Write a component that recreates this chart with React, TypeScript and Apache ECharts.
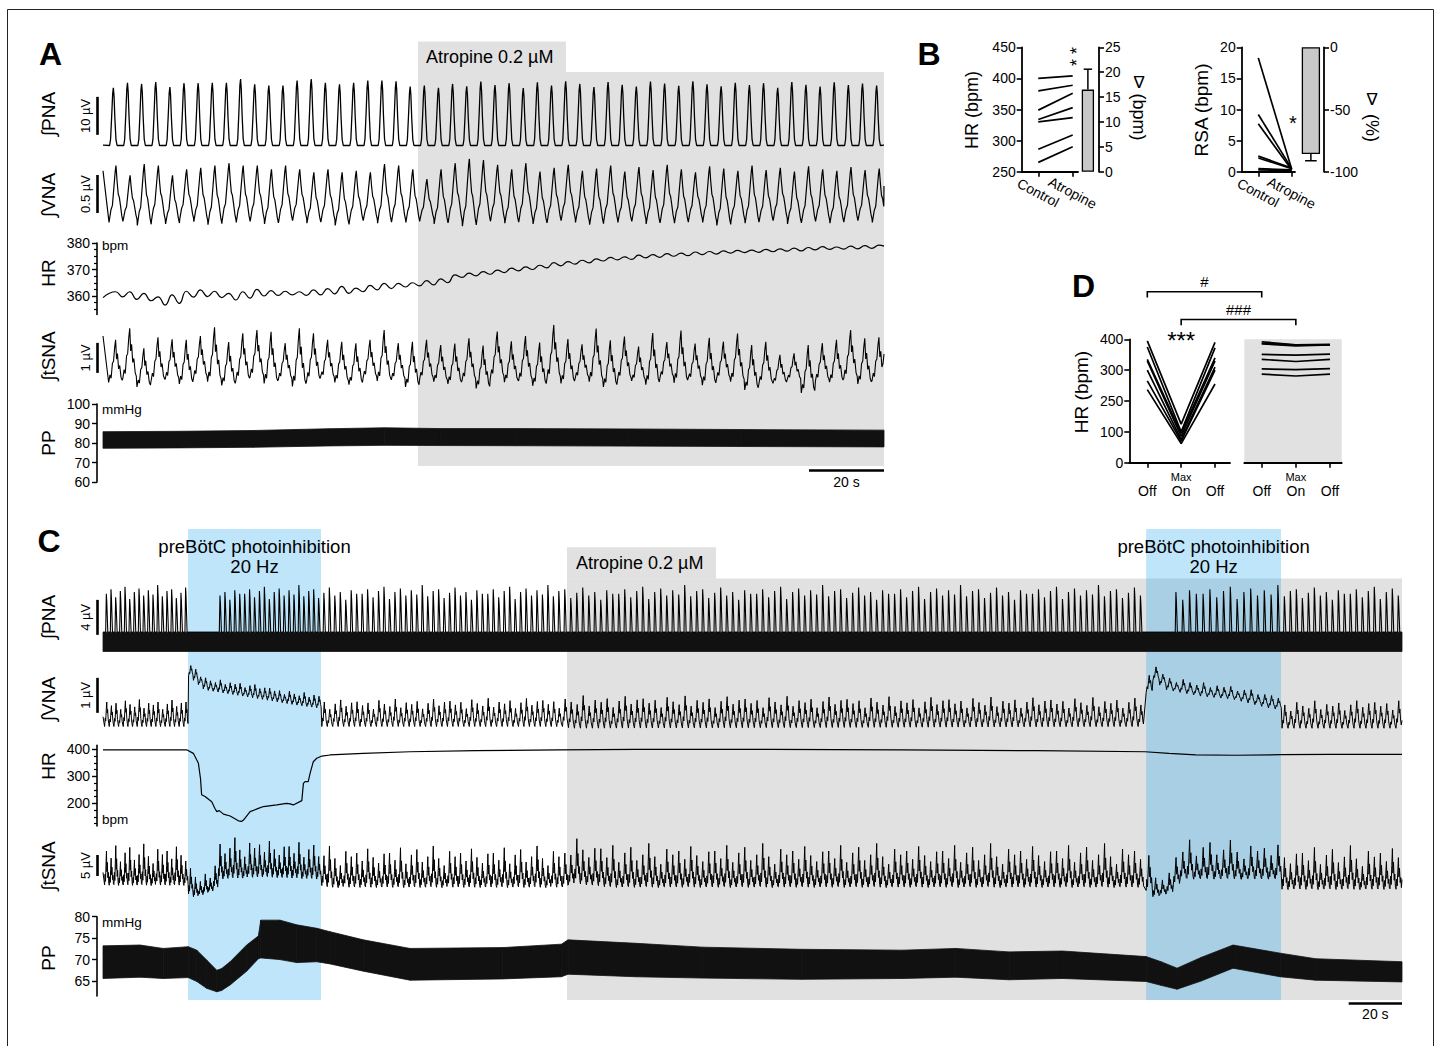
import React, { useEffect, useRef } from "react";
import * as echarts from "echarts";

const FONT = "'Liberation Sans', Arial, Helvetica, sans-serif";
const GRAY = "#e1e1e1";
const BLUE = "rgba(31,165,238,0.29)";

// ================= Panel A (time in s) =================
const A_T_MAX = 208.3;
const A_ATROPINE_START = 84.0;
const A_BURST_T0 = 2.76;
const A_PERIOD = 3.77;
const A_VNA_LAG = 0.7;
const A_SNA_LAG = 0.6;

const aPnaAmp = [
  15.2, 16.5, 16.2, 16.7, 15.4, 16.4, 16.4, 16.5, 16.5, 17.5, 16.1, 15.8, 15.8, 17.1, 17.5, 16.5, 16.1, 16.5, 17.1, 17.1, 16.9, 15.5, 15.8, 15.2,
  16.2, 15.6, 16.8, 15.9, 16.4, 15.1, 16.6, 15.8, 16.9, 16.2, 15.4, 16.7, 16.0, 15.5, 16.8, 16.3, 15.7, 16.9, 16.1, 15.6, 16.5, 15.9, 16.4, 15.2, 16.7, 16.0, 15.5, 16.6, 15.9, 16.3, 15.8,
];
const aVnaPeak = [
  0.77, 0.64, 0.79, 0.77, 0.64, 0.72, 0.74, 0.77, 0.8, 0.77, 0.77, 0.72, 0.77, 0.72, 0.68, 0.72, 0.68, 0.7, 0.68, 0.79, 0.77, 0.72, 0.59, 0.72,
  0.8, 0.86, 0.84, 0.78, 0.72, 0.8, 0.69, 0.74, 0.78, 0.7, 0.73, 0.77, 0.69, 0.75, 0.71, 0.78, 0.72, 0.68, 0.76, 0.73, 0.7, 0.77, 0.71, 0.74, 0.69, 0.76, 0.72, 0.7, 0.75, 0.71, 0.73,
];
const aVnaTrough = [
  0.02, 0.05, -0.02, 0.04, 0.0, 0.06, 0.03, -0.01, 0.04, 0.02, 0.05, 0.0, 0.03, 0.06, 0.01, 0.04, -0.02, 0.03, 0.05, 0.01,
  0.04, 0.02, 0.06, 0.0, 0.03, -0.03, 0.02, 0.05, 0.01, 0.04, 0.0, 0.03, 0.06, 0.02, -0.01, 0.04, 0.02, 0.05, 0.0, 0.03,
  0.01, 0.05, 0.02, -0.02, 0.04, 0.01, 0.03, 0.06, 0.0, 0.02, 0.04, 0.01, 0.03, 0.05, 0.02,
];
const aSnaPeak = [
  0.67, 1.06, 0.39, 0.76, 0.69, 0.67, 0.8, 1.09, 0.6, 0.89, 1.0, 0.94, 0.56, 1.06, 0.89, 0.67, 0.61, 0.56, 0.67, 1.0, 0.56, 0.61, 0.67, 0.5,
  0.55, 0.72, 0.48, 0.95, 0.62, 0.8, 0.58, 1.17, 0.7, 0.52, 1.05, 0.66, 0.78, 0.45, 0.9, 0.6, 0.98, 0.55, 0.74, 0.61, 0.88, 0.5,
  0.61, 0.17, 0.22, 0.5, 0.56, 0.67, 1.0, 0.72, 0.76,
];
const aSnaTrough = [
  -0.75, -0.62, -0.9, -0.7, -0.65, -0.8, -0.6, -0.72, -0.85, -0.68, -0.58, -0.78, -0.66, -0.88, -0.7, -0.62, -0.75, -0.82, -0.6, -0.7, -0.66, -0.9, -0.64, -0.72,
  -0.8, -0.68, -0.95, -0.6, -0.74, -0.7, -0.86, -0.64, -0.78, -0.62, -0.72, -0.9, -0.66, -0.7, -0.82, -0.6, -0.76, -0.68, -0.84, -0.64, -0.72, -1.0, -0.8, -0.78, -0.66, -1.1, -0.7, -0.74, -0.62, -0.8, -0.7,
];
const aHrHigh = [
  361.6, 361.6, 361.0, 359.7, 360.4, 361.8, 362.3, 361.8, 361.0, 361.6, 362.5, 362.0, 361.8, 361.6, 362.3, 362.8, 363.6, 363.0, 364.0, 364.8, 364.8, 365.0, 365.8, 366.5,
  368.0, 368.6, 369.2, 369.8, 370.5, 371.0, 371.6, 372.6, 373.0, 373.5, 374.0, 374.6, 374.8, 375.4, 375.6, 376.0, 376.2, 376.6, 376.8, 377.0, 377.2, 377.3, 377.6, 377.8, 378.1, 378.3, 378.6, 378.5, 378.8, 379.0, 379.2,
];
const aHrLow = [
  359.7, 358.7, 358.2, 356.6, 357.2, 359.6, 359.8, 359.4, 358.5, 359.2, 360.0, 360.2, 360.4, 360.2, 360.4, 360.8, 361.0, 361.6, 362.3, 362.8, 363.4, 363.8, 364.2, 365.0,
  367.0, 367.6, 368.2, 368.8, 369.5, 370.0, 370.6, 371.4, 372.0, 372.5, 373.2, 373.6, 373.8, 374.4, 374.6, 375.0, 375.2, 375.6, 375.8, 376.2, 376.4, 376.5, 376.7, 376.9, 377.0, 377.4, 377.6, 377.7, 377.8, 378.0, 378.3,
];
const aPpT = [0, 20, 40, 60, 75, 90, 110, 140, 170, 208.3];
const aPpLow = [77.3, 77.5, 77.8, 78.5, 78.8, 78.7, 78.6, 78.4, 78.2, 78.0];
const aPpHigh = [85.8, 86.0, 86.4, 87.3, 87.8, 87.4, 87.4, 87.2, 86.9, 86.6];

// burst / cycle waveforms (offsets in s from peak, fraction of amplitude)
const aPnaShapeDt = [-1.0, -0.75, -0.45, -0.18, 0, 0.18, 0.42, 0.7, 1.0];
const aPnaShapeFr = [0, 0.1, 0.5, 0.9, 1, 0.86, 0.45, 0.1, 0.0];
const aVnaShapeDt = [-1.85, -1.35, -0.95, -0.55, -0.2, 0, 0.3, 0.6, 0.9, 1.2, 1.55, 1.85];
const aVnaShapeFr = [0, 0.22, 0.3, 0.62, 0.9, 1, 0.72, 0.5, 0.44, 0.3, 0.12, 0.02];
const aSnaShapeDt = [-1.85, -1.5, -1.2, -0.85, -0.55, -0.25, 0, 0.25, 0.5, 0.8, 1.1, 1.45, 1.75];
const aSnaShapeFr = [0, 0.18, 0.1, 0.45, 0.5, 0.82, 1, 0.55, 0.68, 0.32, 0.4, 0.12, 0.05];

// ================= Panel C (time in s) =================
const C_T_MAX = 487.4;
const C_ATROPINE_START = 174.1;
const cPhotoStart = [31.9, 391.4];
const cPhotoEnd = [81.8, 442.0];
const cOscStart = [0.6, 32.1, 82.1, 172.4, 391.4, 442.4];
const cOscEnd = [30.4, 80.3, 172.0, 389.0, 440.0, 486.0];
const cOscPeriod = [1.75, 1.85, 2.05, 2.25, 2.55, 2.25];
const cPnaSilentStart = [31.9, 391.4];
const cPnaSilentEnd = [43.6, 402.5];
const cPnaBandT = [0, 487.4];
const cPnaBandLow = [0, 0];
const cPnaBandHigh = [2.2, 2.2];
const cPnaAmp = [6.6, 7.1, 6.2, 6.9, 7.4, 6.0, 6.8, 7.2, 6.4, 7.0, 6.5, 7.6, 6.3, 6.9, 7.1, 6.1, 6.7, 7.3, 6.4, 6.8, 5.9, 7.0, 6.6];
const cPnaShapeDt = [-0.3, -0.05, 0.12, 0.3, 0.5];
const cPnaShapeFr = [0, 1, 0.78, 0.42, 0];

const cVnaEnvT = [0, 31.9, 32.0, 38, 54, 72, 81.7, 81.9, 174, 175, 391.2, 391.5, 399, 411.6, 424, 436.7, 441.8, 442.2, 487.4];
const cVnaEnvLo = [0.1, 0.1, 1.55, 1.15, 0.95, 0.72, 0.62, 0.1, 0.1, 0.05, 0.1, 1.55, 1.15, 0.97, 0.88, 0.64, 0.58, 0.05, 0.05];
const cVnaEnvHi = [0.8, 0.8, 1.9, 1.45, 1.3, 1.05, 1.0, 0.8, 0.85, 0.9, 0.85, 1.95, 1.5, 1.32, 1.23, 0.99, 0.95, 0.75, 0.8];
const cVnaPat = [1.0, 0.85, 0.95, 0.7, 1.05, 0.9, 0.8, 1.1, 0.75, 0.95, 0.88, 1.0, 0.7, 0.92, 1.08, 0.82, 0.96];
const cVnaPh = [0, 0.14, 0.24, 0.36, 0.46, 0.55, 0.65, 0.77, 0.88];
const cVnaFr = [0, 0.35, 0.22, 0.7, 1.0, 0.55, 0.7, 0.3, 0.12];

const cSnaEnvT = [0, 31.9, 32.2, 37, 41, 43.5, 60, 81.7, 82.2, 174, 175, 190, 391.2, 391.8, 400, 403, 441.8, 442.4, 487.4];
const cSnaEnvLo = [-3.5, -3.5, -6.5, -5.5, -4.5, -2, -1.5, -2, -4, -4, -3, -4, -4, -6.5, -5, -2, -2, -4.5, -4.5];
const cSnaEnvHi = [5, 5, -1, -1.5, 1, 6.5, 6.5, 5.5, 4.5, 4.5, 7, 5, 5, -1, 0, 6.5, 5.5, 4.5, 4.5];
const cSnaPat = [1.0, 0.8, 1.15, 0.7, 0.95, 1.1, 0.75, 0.9, 1.2, 0.85, 0.65, 1.05, 0.9, 1.0, 0.78, 1.12, 0.88, 0.72, 0.98];
const cSnaPh = [0, 0.1, 0.2, 0.3, 0.4, 0.48, 0.58, 0.7, 0.8, 0.9];
const cSnaFr = [0.05, 0.35, 0.15, 0.6, 1.0, 0.42, 0.68, 0.25, 0.4, 0.1];

const cHrT = [0, 31.4, 33.9, 35.8, 36.6, 37.0, 38.3, 40.8, 42.0, 42.7, 43.6, 45.2, 47.7, 50.8, 52.0, 52.7, 55.2, 58.3, 60.2, 65.2, 68.9, 70.2, 71.4, 74.6, 75.2, 75.8, 77.0, 77.7, 78.9, 80.2, 82.1, 85.2, 97.7, 115.2, 140, 171, 200, 250, 300, 350, 391, 400, 410, 425, 442, 460, 487.4];
const cHr = [398, 398, 385, 348, 290, 232, 225, 206, 181, 169, 173, 160, 153, 135, 133, 138, 169, 181, 188, 194, 200, 198, 194, 210, 274, 280, 280, 311, 354, 367, 375, 379, 385, 391, 395, 398, 400, 400, 398, 395, 391, 385, 379, 378, 380, 381, 381];

const cPpT = [0, 13.9, 22.6, 32.0, 35.2, 38.9, 42.7, 44.5, 47.7, 53.9, 58.3, 59.2, 66.4, 72.7, 80.2, 85.2, 97.7, 115.2, 150, 172, 174.5, 200, 225, 262, 300, 320, 340, 360, 391.4, 397, 403, 412, 424, 441.7, 455, 487.4];
const cPpLow = [65.6, 65.9, 65.6, 65.8, 64.9, 63.3, 62.5, 62.8, 64.1, 67.3, 70.2, 70.4, 70.0, 69.3, 69.5, 69.0, 67.3, 65.2, 65.5, 66.0, 66.6, 66.0, 65.7, 65.4, 65.6, 65.9, 65.3, 65.6, 64.9, 64.0, 63.1, 65.0, 68.0, 66.0, 65.2, 64.8];
const cPpHigh = [73.2, 73.4, 72.6, 73.0, 72.2, 69.9, 67.5, 67.9, 69.5, 73.4, 75.5, 79.2, 79.2, 78.1, 77.3, 76.5, 74.6, 72.6, 72.8, 73.6, 74.6, 73.8, 72.9, 72.4, 72.2, 72.6, 71.8, 72.0, 70.7, 69.5, 68.0, 70.5, 73.4, 71.5, 70.2, 69.5];

// ================= Panel B =================
const bCategories = ["Control", "Atropine"];
const bHrControl = [400, 380, 349, 334, 330, 286, 265];
const bHrAtropine = [404, 389, 376, 353, 337, 309, 290];
const bHrDeltaMean = 16.5;
const bHrDeltaSem = 4.1;
const bRsaControl = [18.3, 9.2, 7.7, 2.5, 2.2, 0.5, 0.3];
const bRsaAtropine = [0.4, 0.5, 0.3, 0.6, 0.5, 0.3, 0.2];
const bRsaDeltaMean = -85.8;
const bRsaDeltaSem = 5.4;

// ================= Panel D =================
const dCategories = ["Off", "On", "Off"];
const dMaxLabel = "Max";
const dTickLabels = ["0", "100", "250", "300", "400"];
const dCtrlOff1 = [395, 375, 335, 330, 300, 265, 237];
const dCtrlOn = [125, 100, 95, 85, 75, 70, 62];
const dCtrlOff2 = [390, 372, 340, 330, 310, 300, 255];
const dAtrOff1 = [392, 388, 385, 351, 335, 304, 287];
const dAtrOn = [382, 381, 379, 349, 328, 302, 281];
const dAtrOff2 = [384, 382, 382, 352, 335, 305, 287];

// ================= helpers =================
function envAt(T: number[], V: number[], t: number) {
  if (t <= T[0]) return V[0];
  for (let i = 1; i < T.length; i++) {
    if (t <= T[i]) {
      const f = (t - T[i - 1]) / (T[i] - T[i - 1] || 1);
      return V[i - 1] + f * (V[i] - V[i - 1]);
    }
  }
  return V[V.length - 1];
}

function aPnaData() {
  const d: number[][] = [[0, 0.1]];
  aPnaAmp.forEach((amp, k) => {
    const tp = A_BURST_T0 + k * A_PERIOD;
    aPnaShapeDt.forEach((dt, j) => d.push([tp + dt, amp * aPnaShapeFr[j]]));
  });
  const out = d.filter((p) => p[0] >= 0 && p[0] <= A_T_MAX);
  out.push([A_T_MAX, 0.1]);
  return out;
}

function aOscData(peaks: number[], troughs: number[], lag: number, dts: number[], frs: number[], start: number, end: number) {
  const d: number[][] = [[0, start]];
  peaks.forEach((pk, k) => {
    const tp = A_BURST_T0 + k * A_PERIOD + lag;
    const tr = troughs[k];
    dts.forEach((dt, j) => d.push([tp + dt, tr + frs[j] * (pk - tr)]));
  });
  const out = d.filter((p) => p[0] >= 0 && p[0] <= A_T_MAX);
  out.push([A_T_MAX, end]);
  return out;
}

function aHrData() {
  const d: number[][] = [[0, 359.4]];
  aHrHigh.forEach((hi, k) => {
    const tp = A_BURST_T0 + k * A_PERIOD;
    d.push([tp + 0.6, hi]);
    d.push([tp + 2.5, aHrLow[k]]);
  });
  const out = d.filter((p) => p[0] <= A_T_MAX);
  out.push([A_T_MAX, 378.8]);
  return out;
}

function cCycles() {
  const out: number[][] = [];
  cOscStart.forEach((s, i) => {
    for (let t = s; t <= cOscEnd[i] + 1e-9; t += cOscPeriod[i]) out.push([t, cOscPeriod[i]]);
  });
  return out;
}

function cPnaSpikes() {
  const base = cPnaBandHigh[0];
  const d: number[][] = [[0, base]];
  let k = 0;
  cCycles().forEach(([t0, P]) => {
    const tp = t0 + 0.4 * P;
    if (cPnaSilentStart.some((s, i) => tp >= s && tp <= cPnaSilentEnd[i])) return;
    const amp = cPnaAmp[k++ % cPnaAmp.length];
    cPnaShapeDt.forEach((dt, j) => d.push([tp + dt, base + cPnaShapeFr[j] * (amp - base)]));
  });
  const out = d.filter((p) => p[0] <= C_T_MAX);
  out.push([C_T_MAX, base]);
  return out;
}

function cOscData(envT: number[], envLo: number[], envHi: number[], pat: number[], ph: number[], fr: number[]) {
  const d: number[][] = [[0, envAt(envT, envLo, 0) + 0.4 * (envAt(envT, envHi, 0) - envAt(envT, envLo, 0))]];
  cCycles().forEach(([t0, P], k) => {
    const lo = envAt(envT, envLo, t0);
    const hi = envAt(envT, envHi, t0);
    const a = pat[k % pat.length];
    ph.forEach((p, j) => d.push([t0 + p * P, lo + fr[j] * (hi - lo) * a]));
  });
  const out = d.filter((p) => p[0] <= C_T_MAX);
  out.push([C_T_MAX, envAt(envT, envLo, C_T_MAX) + 0.3 * (envAt(envT, envHi, C_T_MAX) - envAt(envT, envLo, C_T_MAX))]);
  return out;
}

// ================= option =================
const axisColor = "#000";
const lbl = (extra: any = {}) => ({ color: "#000", fontSize: 14, fontFamily: FONT, ...extra });

const hx = (gi: number, min: number, max: number) => ({ type: "value", gridIndex: gi, min, max, show: false, splitLine: { show: false } });
const hy = (gi: number, min: number, max: number) => ({ type: "value", gridIndex: gi, min, max, show: false, splitLine: { show: false } });
const traceY = (gi: number, min: number, max: number, ticks: number[]) => ({
  type: "value", gridIndex: gi, min, max, position: "left", offset: 6,
  axisLine: { show: true, onZero: false, lineStyle: { color: axisColor, width: 1.6 } },
  axisTick: { show: true, customValues: ticks, length: 5, lineStyle: { color: axisColor, width: 1.4 } },
  axisLabel: lbl({ customValues: ticks, margin: 7 }),
  splitLine: { show: false },
});
const minorY = (gi: number, min: number, max: number, ticks: number[]) => ({
  type: "value", gridIndex: gi, min, max, position: "left", offset: 6,
  axisLine: { show: false, onZero: false },
  axisTick: { show: true, customValues: ticks, length: 3, lineStyle: { color: axisColor, width: 1.2 } },
  axisLabel: { show: false },
  splitLine: { show: false },
});
const bY = (gi: number, min: number, max: number, interval: number, position: string, fmt?: any) => ({
  type: "value", gridIndex: gi, min, max, interval, position,
  axisLine: { show: true, onZero: false, lineStyle: { color: axisColor, width: 1.8 } },
  axisTick: { show: true, length: 5, lineStyle: { color: axisColor, width: 1.6 } },
  axisLabel: lbl({ margin: 6, ...(fmt ? { formatter: fmt } : {}) }),
  splitLine: { show: false },
});
const catX = (gi: number, min: number, max: number) => ({
  type: "value", gridIndex: gi, min, max,
  axisLine: { show: true, onZero: false, lineStyle: { color: axisColor, width: 1.8 } },
  axisTick: { show: true, customValues: [0, 1], length: 5, lineStyle: { color: axisColor, width: 1.6 } },
  axisLabel: lbl({ customValues: [0, 1], formatter: (v: number) => bCategories[Math.round(v)], rotate: -28, align: "center", verticalAlign: "middle", margin: 21 }),
  splitLine: { show: false },
});
const dX = (gi: number, min: number, max: number) => ({
  type: "value", gridIndex: gi, min, max,
  axisLine: { show: true, onZero: false, lineStyle: { color: axisColor, width: 1.8 } },
  axisTick: { show: true, customValues: [0, 1, 2], length: 5, lineStyle: { color: axisColor, width: 1.6 } },
  axisLabel: {
    customValues: [0, 1, 2], margin: 8,
    formatter: (v: number) => {
      const i = Math.round(v);
      return i === 1 ? `{s|${dMaxLabel}}\n{b|${dCategories[i]}}` : `{s| }\n{b|${dCategories[i]}}`;
    },
    rich: {
      s: { fontSize: 11, lineHeight: 12, fontFamily: FONT, color: "#000" },
      b: { fontSize: 14, lineHeight: 16, fontFamily: FONT, color: "#000" },
    },
  },
  splitLine: { show: false },
});

const traceLine = (xi: number, data: number[][], width = 1.2, smooth: any = false) => ({
  type: "line", xAxisIndex: xi, yAxisIndex: xi, data, symbol: "none", showSymbol: false, smooth,
  lineStyle: { color: "#000", width }, silent: true, z: 5, animation: false,
});
// filled band between a lower and an upper envelope, drawn segment by segment through the axes' scales
const bandSeries = (xi: number, T: number[], lo: number[], hi: number[]) => ({
  type: "custom", xAxisIndex: xi, yAxisIndex: xi, z: 5, silent: true,
  data: T.slice(0, -1).map((t, i) => [t, lo[i], hi[i], T[i + 1], lo[i + 1], hi[i + 1]]),
  renderItem: (_p: any, api: any) => {
    const a = api.coord([api.value(0), api.value(1)]);
    const b = api.coord([api.value(0), api.value(2)]);
    const c = api.coord([api.value(3), api.value(5)]);
    const d = api.coord([api.value(3), api.value(4)]);
    return { type: "polygon", shape: { points: [a, b, c, d] }, style: { fill: "#111", stroke: "#111", lineWidth: 0.8 } };
  },
});
const pairLines = (xi: number, ...cols: number[][]) =>
  cols[0].map((_, i) => ({
    type: "line", xAxisIndex: xi, yAxisIndex: xi, data: cols.map((c, j) => [j, c[i]]),
    symbol: "none", lineStyle: { color: "#000", width: 1.7 }, silent: true, z: 5,
  }));
const errBar = (xi: number, x: number, mean: number, end: number, hw: number) => ({
  type: "custom", xAxisIndex: xi, yAxisIndex: xi, data: [[x, mean, end]], z: 6, silent: true,
  renderItem: (_p: any, api: any) => {
    const p1 = api.coord([api.value(0), api.value(1)]);
    const p2 = api.coord([api.value(0), api.value(2)]);
    return {
      type: "group",
      children: [
        { type: "line", shape: { x1: p1[0], y1: p1[1], x2: p2[0], y2: p2[1] }, style: { stroke: "#000", lineWidth: 1.5 } },
        { type: "line", shape: { x1: p2[0] - hw, y1: p2[1], x2: p2[0] + hw, y2: p2[1] }, style: { stroke: "#000", lineWidth: 1.5 } },
      ],
    };
  },
});

function buildOption() {
  const gridBoxes = [
    [103, 77.1, 781, 72.2], // 0 A PNA
    [103, 159.4, 781, 76], // 1 A VNA
    [103, 243, 781, 71.55], // 2 A HR
    [103, 315, 781, 90], // 3 A tSNA
    [103, 404, 781, 78], // 4 A PP
    [103, 581.5, 1299, 72.6], // 5 C PNA
    [103, 660, 1299, 77], // 6 C VNA
    [103, 745.25, 1299, 80.73], // 7 C HR
    [103, 830, 1299, 84], // 8 C tSNA
    [103, 916.7, 1299, 79.37], // 9 C PP
    [1021.7, 47.3, 56.3, 124.4], // 10 B HR lines
    [1078, 47.3, 21, 124.4], // 11 B HR delta
    [1241.7, 47.3, 53.3, 124.4], // 12 B RSA lines
    [1295, 47.3, 29, 124.4], // 13 B RSA delta
    [1129.3, 339.3, 100.7, 123.4], // 14 D control
    [1244.3, 339.3, 97.4, 123.4], // 15 D atropine
  ];
  const grid = gridBoxes.map(([left, top, width, height], i) => ({
    left, top, width, height, show: i === 15, backgroundColor: i === 15 ? GRAY : "transparent",
    borderWidth: 0, containLabel: false, outerBoundsMode: "none",
  }));
  const xAxis = [
    hx(0, 0, A_T_MAX), hx(1, 0, A_T_MAX), hx(2, 0, A_T_MAX), hx(3, 0, A_T_MAX), hx(4, 0, A_T_MAX),
    hx(5, 0, C_T_MAX), hx(6, 0, C_T_MAX), hx(7, 0, C_T_MAX), hx(8, 0, C_T_MAX), hx(9, 0, C_T_MAX),
    catX(10, -0.483, 1.154), hx(11, 0, 1), catX(12, -0.497, 1.099), hx(13, 0, 1),
    dX(14, -0.532, 2.443), dX(15, -0.51, 2.343),
  ];
  const yAxis = [
    hy(0, -1, 18), hy(1, -0.15, 0.85),
    traceY(2, 353, 380, [360, 370, 380]),
    hy(3, -1.5, 1.5),
    traceY(4, 60, 100, [60, 70, 80, 90, 100]),
    hy(5, -0.3, 8), hy(6, -0.2, 2.0),
    traceY(7, 116, 415, [200, 300, 400]),
    hy(8, -10, 10),
    traceY(9, 61.5, 80, [65, 70, 75, 80]),
    bY(10, 250, 450, 50, "left"),
    bY(11, 0, 25, 5, "right"),
    bY(12, 0, 20, 5, "left"),
    bY(13, -100, 0, 50, "right"),
    bY(14, 0, 400, 100, "left", (v: number) => dTickLabels[Math.round(v / 100)]),
    hy(15, 0, 400),
    minorY(2, 353, 380, [355, 357.5, 362.5, 365, 367.5, 372.5, 375, 377.5]),
    minorY(7, 116, 415, [125, 150, 175, 225, 250, 275, 325, 350, 375]),
  ];

  const series: any[] = [
    traceLine(0, aPnaData(), 1.3),
    traceLine(1, aOscData(aVnaPeak, aVnaTrough, A_VNA_LAG, aVnaShapeDt, aVnaShapeFr, 0.7, 0.5), 1.2),
    traceLine(2, aHrData(), 1.2, 0.5),
    traceLine(3, aOscData(aSnaPeak, aSnaTrough, A_SNA_LAG, aSnaShapeDt, aSnaShapeFr, 0.8, 0.2), 1.1),
    bandSeries(4, aPpT, aPpLow, aPpHigh),
    bandSeries(5, cPnaBandT, cPnaBandLow, cPnaBandHigh),
    traceLine(5, cPnaSpikes(), 1.1),
    traceLine(6, cOscData(cVnaEnvT, cVnaEnvLo, cVnaEnvHi, cVnaPat, cVnaPh, cVnaFr), 1.0),
    traceLine(7, cHrT.map((t, i) => [t, cHr[i]]), 1.2),
    traceLine(8, cOscData(cSnaEnvT, cSnaEnvLo, cSnaEnvHi, cSnaPat, cSnaPh, cSnaFr), 1.0),
    bandSeries(9, cPpT, cPpLow, cPpHigh),
    ...pairLines(10, bHrControl, bHrAtropine),
    { type: "bar", xAxisIndex: 11, yAxisIndex: 11, data: [[0.471, bHrDeltaMean]], barWidth: 12.3, itemStyle: { color: "#c8c8c8", borderColor: "#000", borderWidth: 1.3 }, silent: true, z: 5 },
    errBar(11, 0.471, bHrDeltaMean, bHrDeltaMean + bHrDeltaSem, 4.2),
    ...pairLines(12, bRsaControl, bRsaAtropine),
    { type: "bar", xAxisIndex: 13, yAxisIndex: 13, data: [[0.548, bRsaDeltaMean]], barWidth: 18.3, itemStyle: { color: "#c8c8c8", borderColor: "#000", borderWidth: 1.3 }, silent: true, z: 5 },
    errBar(13, 0.548, bRsaDeltaMean, bRsaDeltaMean - bRsaDeltaSem, 5.8),
    ...pairLines(14, dCtrlOff1, dCtrlOn, dCtrlOff2),
    ...pairLines(15, dAtrOff1, dAtrOn, dAtrOff2),
  ];

  return {
    animation: false,
    backgroundColor: "#fff",
    textStyle: { fontFamily: FONT },
    grid, xAxis, yAxis, series,
  };
}

// ================= annotations =================
const traceLabels = ["∫PNA", "∫VNA", "HR", "∫tSNA", "PP"];
const traceLabelYA = [114, 195, 273, 356, 443];
const traceLabelYC = [617, 699, 766, 866, 958];
const scaleBarAxis = [0, 1, 3, 5, 6, 8];
const scaleBarFrom = [2.8, 0.145, -0.43, 1.9, 0.49, -0.95];
const scaleBarSize = [10, 0.5, 1, 4, 1, 5];
const scaleBarText = ["10 µV", "0.5 µV", "1 µV", "4 µV", "1 µV", "5 µV"];
const TIME_BAR_S = 20;

const txt = (text: string, x: number, y: number, o: any = {}) => ({
  type: "text", x, y, rotation: o.rotation || 0, z: 20, silent: true,
  style: {
    text, fill: "#000", fontSize: o.size || 14, fontFamily: FONT, fontWeight: o.weight || "normal",
    textAlign: o.align || "center", textVerticalAlign: "middle", align: o.align || "center", verticalAlign: "middle",
  },
});
const rect = (x: number, y: number, w: number, h: number, fill: string, z = 1) => ({
  type: "rect", z, silent: true, shape: { x, y, width: w, height: h }, style: { fill },
});
const seg = (x1: number, y1: number, x2: number, y2: number, w: number) => ({
  type: "line", z: 20, silent: true, shape: { x1, y1, x2, y2 }, style: { stroke: "#000", lineWidth: w },
});

function buildGraphic(chart: any) {
  const px = (xi: number, v: number) => chart.convertToPixel({ xAxisIndex: xi }, v) as number;
  const py = (yi: number, v: number) => chart.convertToPixel({ yAxisIndex: yi }, v) as number;
  const els: any[] = [];

  // frame
  els.push({ type: "rect", z: 30, silent: true, shape: { x: 7.5, y: 9.5, width: 1426, height: 1050 }, style: { fill: "none", stroke: "#222", lineWidth: 1 } });

  // panel letters
  els.push(txt("A", 50.5, 53.5, { size: 32, weight: "bold" }));
  els.push(txt("B", 929, 53.5, { size: 32, weight: "bold" }));
  els.push(txt("C", 49, 541, { size: 32, weight: "bold" }));
  els.push(txt("D", 1083.5, 286, { size: 32, weight: "bold" }));

  // Panel A shading
  const ax0 = px(0, A_ATROPINE_START);
  const ax1 = px(0, A_T_MAX);
  els.push(rect(ax0, 72, ax1 - ax0, 394, GRAY));
  els.push(rect(ax0, 41.5, 148, 31, GRAY));
  els.push(txt("Atropine 0.2 µM", ax0 + 8, 56.5, { size: 18, align: "left" }));

  // Panel C shading
  const cx0 = px(5, C_ATROPINE_START);
  const cx1 = px(5, C_T_MAX);
  els.push(rect(cx0, 578.5, cx1 - cx0, 421.5, GRAY));
  els.push(rect(cx0, 547.3, 149, 31.5, GRAY));
  els.push(txt("Atropine 0.2 µM", cx0 + 9, 562.5, { size: 18, align: "left" }));
  cPhotoStart.forEach((s, i) => {
    const b0 = px(5, s);
    const b1 = px(5, cPhotoEnd[i]);
    els.push(rect(b0, 529, b1 - b0, 471, BLUE, 2));
    els.push(txt("preBötC photoinhibition", (b0 + b1) / 2, 546.5, { size: 18.5 }));
    els.push(txt("20 Hz", (b0 + b1) / 2, 566.5, { size: 18.5 }));
  });

  // trace labels
  traceLabels.forEach((t, i) => {
    els.push(txt(t, 48.5, traceLabelYA[i], { size: 19, rotation: Math.PI / 2 }));
    els.push(txt(t, 48.5, traceLabelYC[i], { size: 19, rotation: Math.PI / 2 }));
  });

  // vertical scale bars
  scaleBarAxis.forEach((yi, i) => {
    const y1 = py(yi, scaleBarFrom[i]);
    const y2 = py(yi, scaleBarFrom[i] + scaleBarSize[i]);
    els.push(seg(97.5, y1, 97.5, y2, 2.6));
    els.push(txt(scaleBarText[i], 85, (y1 + y2) / 2, { size: 13, rotation: Math.PI / 2 }));
  });

  // units
  els.push(txt("bpm", 102, 245.5, { size: 13.5, align: "left" }));
  els.push(txt("mmHg", 102, 409.5, { size: 13.5, align: "left" }));
  els.push(txt("bpm", 102, 819.5, { size: 13.5, align: "left" }));
  els.push(txt("mmHg", 102, 922, { size: 13.5, align: "left" }));

  // time scale bars
  const ta0 = px(4, A_T_MAX - TIME_BAR_S);
  const ta1 = px(4, A_T_MAX);
  els.push(seg(ta0, 470.5, ta1, 470.5, 2.5));
  els.push(txt("20 s", (ta0 + ta1) / 2, 482, { size: 14 }));
  const tc0 = px(9, C_T_MAX - TIME_BAR_S);
  const tc1 = px(9, C_T_MAX);
  els.push(seg(tc0, 1003.5, tc1, 1003.5, 2.5));
  els.push(txt("20 s", (tc0 + tc1) / 2, 1014, { size: 14 }));

  // Panel B titles
  els.push(txt("HR (bpm)", 972, 110, { size: 18, rotation: Math.PI / 2 }));
  els.push(txt("Δ", 1139, 81, { size: 17, rotation: Math.PI }));
  els.push(txt("(bpm)", 1139, 117, { size: 18, rotation: -Math.PI / 2 }));
  // two stacked asterisks: one rotated line so the two glyphs sit one above the other
  els.push(txt("* *", px(10, 1) + 4, 56.5, { size: 18, rotation: Math.PI / 2 }));
  els.push(txt("RSA (bpm)", 1201, 110, { size: 19, rotation: Math.PI / 2 }));
  els.push(txt("Δ", 1372, 98, { size: 17, rotation: Math.PI }));
  els.push(txt("(%)", 1372, 128, { size: 18, rotation: -Math.PI / 2 }));
  els.push(txt("*", 1293, 122.5, { size: 20 }));

  // Panel D annotations
  els.push(txt("HR (bpm)", 1081, 392, { size: 19, rotation: Math.PI / 2 }));
  els.push(txt("***", px(14, 1), 340, { size: 24 }));
  const b1a = px(14, 0), b1b = px(15, 0);
  els.push({ type: "polyline", z: 20, silent: true, shape: { points: [[b1a, 297.5], [b1a, 291.7], [b1b, 291.7], [b1b, 297.5]] }, style: { stroke: "#000", lineWidth: 1.6, fill: "none" } });
  els.push(txt("#", (b1a + b1b) / 2, 281, { size: 15 }));
  const b2a = px(14, 1), b2b = px(15, 1);
  els.push({ type: "polyline", z: 20, silent: true, shape: { points: [[b2a, 325.3], [b2a, 319.5], [b2b, 319.5], [b2b, 325.3]] }, style: { stroke: "#000", lineWidth: 1.6, fill: "none" } });
  els.push(txt("###", (b2a + b2b) / 2, 309, { size: 15 }));

  return els;
}

export default function App() {
  const ref = useRef<HTMLDivElement>(null);
  useEffect(() => {
    if (!ref.current) return;
    const chart = echarts.init(ref.current, undefined, { renderer: "svg" });
    chart.setOption(buildOption() as any);
    chart.setOption({ graphic: { elements: buildGraphic(chart) } } as any);
    return () => chart.dispose();
  }, []);
  return (
    <div
      ref={ref}
      style={{ position: "fixed", left: 0, top: 0, width: 1437, height: 1046, background: "#fff" }}
    />
  );
}
